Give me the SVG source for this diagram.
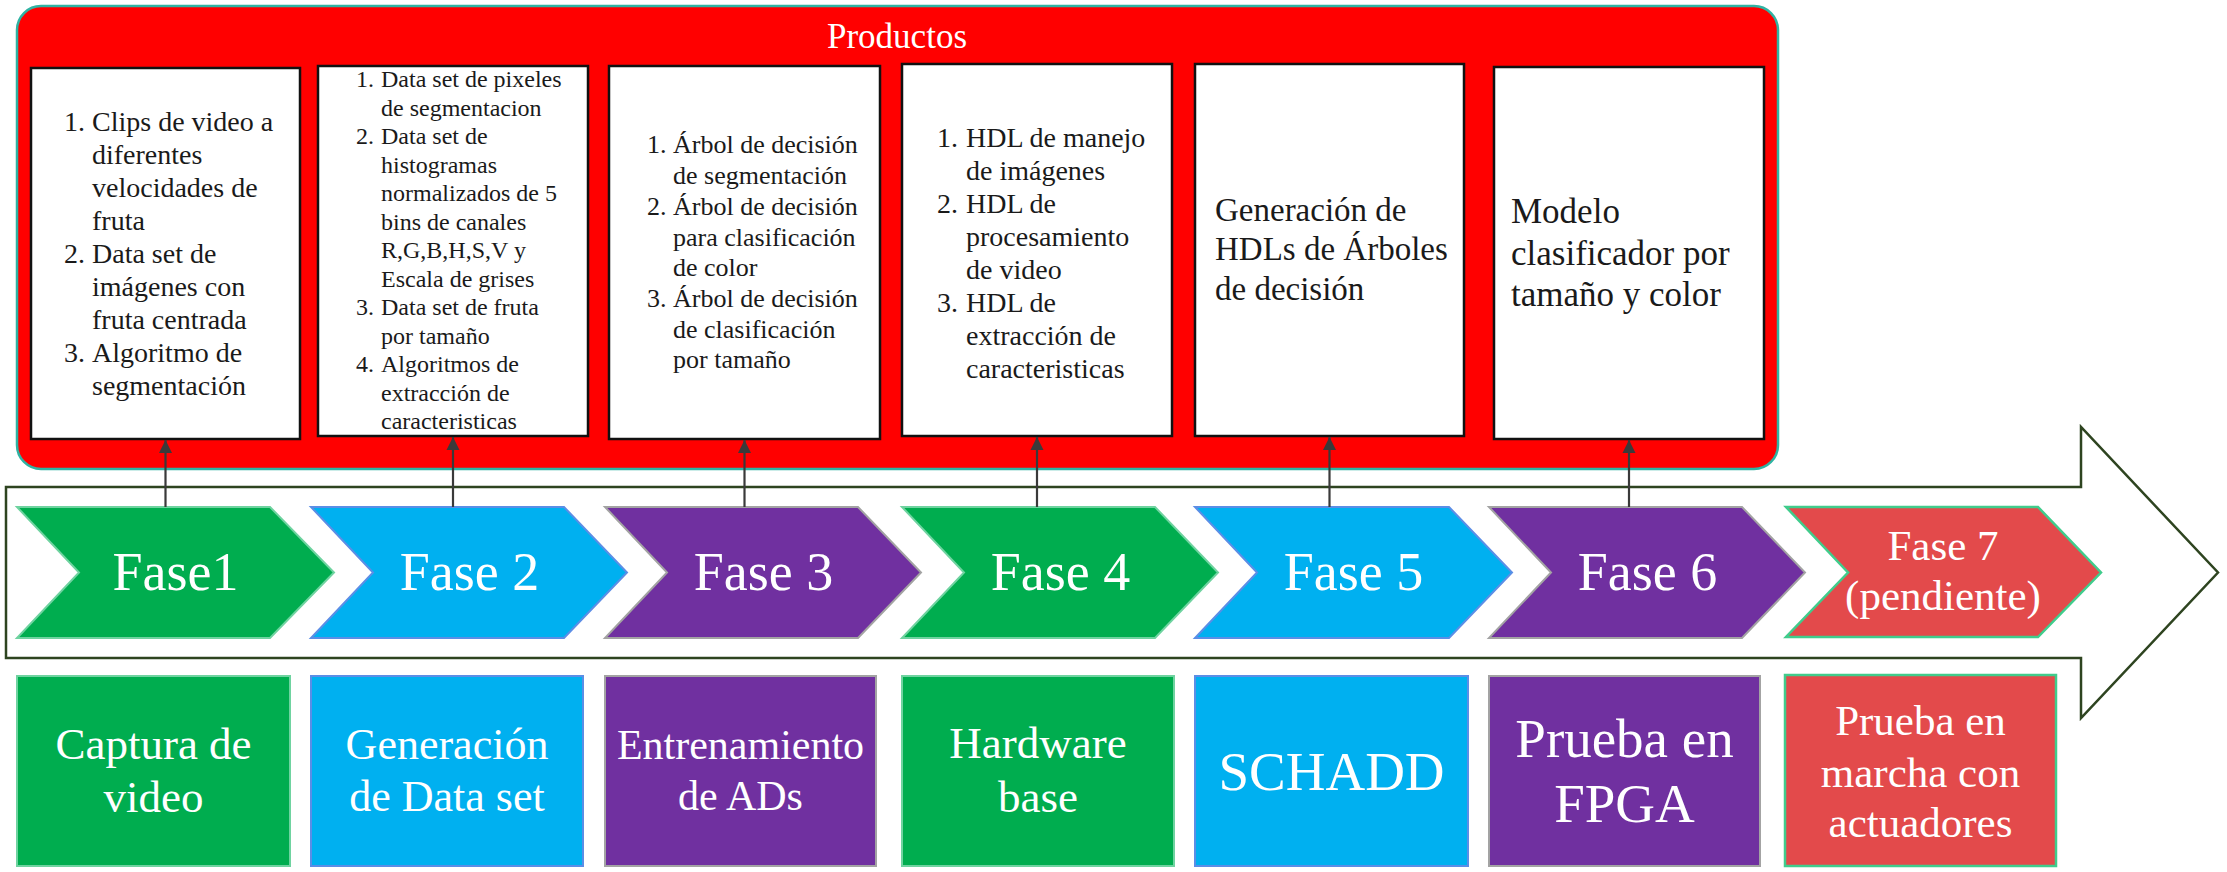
<svg xmlns="http://www.w3.org/2000/svg" width="2227" height="872" viewBox="0 0 2227 872">
  <style>
    text { font-family: "Liberation Serif", "Times New Roman", serif; }
    .prod { fill: #ffffff; stroke: #111111; stroke-width: 2.5; }
    .ptxt { fill: #1a1a1a; }
    .wtxt { fill: #ffffff; text-anchor: middle; }
    .green { fill: #00AD4F; stroke: #6FD3A0; stroke-width: 2; }
    .blue { fill: #00B0F0; stroke: #5B8EE6; stroke-width: 2; }
    .purple { fill: #7030A0; stroke: #A3A3A3; stroke-width: 2; }
    .red { fill: #E34A4B; stroke: #40CC8C; stroke-width: 2.5; }
    .conn { stroke: #3a3a3a; stroke-width: 2.2; fill: none; marker-end: url(#arrowhead); }
  </style>
  <defs>
    <marker id="arrowhead" viewBox="0 0 10 10" refX="10" refY="5" markerWidth="6" markerHeight="6" markerUnits="strokeWidth" orient="auto">
      <path d="M0,0 L10,5 L0,10 Z" fill="#3a3a3a"/>
    </marker>
  </defs>

  <rect width="2227" height="872" fill="#ffffff"/>

  <!-- Products panel -->
  <g id="productos">
    <rect x="17" y="6" width="1761" height="463" rx="24" ry="24" fill="#FF0000" stroke="#2FB3A3" stroke-width="2.5"/>
    <text x="897" y="48" font-size="35" class="wtxt">Productos</text>
  </g>

  <!-- Product boxes -->
  <g id="prod1">
    <rect class="prod" x="31" y="68" width="269" height="371"/>
    <g class="ptxt" font-size="28">
      <text x="64" y="131">1.</text><text x="92" y="131">Clips de video a</text>
      <text x="92" y="164">diferentes</text>
      <text x="92" y="197">velocidades de</text>
      <text x="92" y="230">fruta</text>
      <text x="64" y="263">2.</text><text x="92" y="263">Data set de</text>
      <text x="92" y="296">imágenes con</text>
      <text x="92" y="329">fruta centrada</text>
      <text x="64" y="362">3.</text><text x="92" y="362">Algoritmo de</text>
      <text x="92" y="395">segmentación</text>
    </g>
  </g>
  <g id="prod2">
    <rect class="prod" x="318" y="66" width="270" height="370"/>
    <g class="ptxt" font-size="24">
      <text x="356" y="87">1.</text><text x="381" y="87">Data set de pixeles</text>
      <text x="381" y="115.5">de segmentacion</text>
      <text x="356" y="144">2.</text><text x="381" y="144">Data set de</text>
      <text x="381" y="172.5">histogramas</text>
      <text x="381" y="201">normalizados de 5</text>
      <text x="381" y="229.5">bins de canales</text>
      <text x="381" y="258">R,G,B,H,S,V y</text>
      <text x="381" y="286.5">Escala de grises</text>
      <text x="356" y="315">3.</text><text x="381" y="315">Data set de fruta</text>
      <text x="381" y="343.5">por tamaño</text>
      <text x="356" y="372">4.</text><text x="381" y="372">Algoritmos de</text>
      <text x="381" y="400.5">extracción de</text>
      <text x="381" y="429">caracteristicas</text>
    </g>
  </g>
  <g id="prod3">
    <rect class="prod" x="609" y="66" width="271" height="373"/>
    <g class="ptxt" font-size="26">
      <text x="647" y="153">1.</text><text x="673" y="153">Árbol de decisión</text>
      <text x="673" y="184">de segmentación</text>
      <text x="647" y="215">2.</text><text x="673" y="215">Árbol de decisión</text>
      <text x="673" y="245.5">para clasificación</text>
      <text x="673" y="276">de color</text>
      <text x="647" y="307">3.</text><text x="673" y="307">Árbol de decisión</text>
      <text x="673" y="338">de clasificación</text>
      <text x="673" y="368">por tamaño</text>
    </g>
  </g>
  <g id="prod4">
    <rect class="prod" x="902" y="64" width="270" height="372"/>
    <g class="ptxt" font-size="28">
      <text x="937" y="147">1.</text><text x="966" y="147">HDL de manejo</text>
      <text x="966" y="180">de imágenes</text>
      <text x="937" y="213">2.</text><text x="966" y="213">HDL de</text>
      <text x="966" y="246">procesamiento</text>
      <text x="966" y="279">de video</text>
      <text x="937" y="312">3.</text><text x="966" y="312">HDL de</text>
      <text x="966" y="345">extracción de</text>
      <text x="966" y="378">caracteristicas</text>
    </g>
  </g>
  <g id="prod5">
    <rect class="prod" x="1195" y="64" width="269" height="372"/>
    <g class="ptxt" font-size="33">
      <text x="1215" y="221">Generación de</text>
      <text x="1215" y="260">HDLs de Árboles</text>
      <text x="1215" y="299.5">de decisión</text>
    </g>
  </g>
  <g id="prod6">
    <rect class="prod" x="1494" y="67" width="270" height="372"/>
    <g class="ptxt" font-size="35">
      <text x="1511" y="223">Modelo</text>
      <text x="1511" y="264.5">clasificador por</text>
      <text x="1511" y="306">tamaño y color</text>
    </g>
  </g>

  <!-- Timeline arrow -->
  <g id="timeline">
    <path d="M6,487 H2081 V427 L2218,572.5 L2081,718 V658 H6 Z" fill="#ffffff" stroke="#2E4420" stroke-width="2.5"/>
  </g>

  <!-- Phase chevrons -->
  <g id="fase1">
    <path class="green" d="M17,507 H270 L334,572.5 L270,638 H17 L79,572.5 Z"/>
    <text x="175.5" y="590" font-size="54" class="wtxt">Fase1</text>
  </g>
  <g id="fase2">
    <path class="blue" d="M311,507 H564 L627,572.5 L564,638 H311 L373,572.5 Z"/>
    <text x="469.5" y="590" font-size="54" class="wtxt">Fase 2</text>
  </g>
  <g id="fase3">
    <path class="purple" d="M605,507 H858 L921,572.5 L858,638 H605 L667,572.5 Z"/>
    <text x="763.5" y="590" font-size="54" class="wtxt">Fase 3</text>
  </g>
  <g id="fase4">
    <path class="green" d="M902,507 H1155 L1218,572.5 L1155,638 H902 L964,572.5 Z"/>
    <text x="1060.5" y="590" font-size="54" class="wtxt">Fase 4</text>
  </g>
  <g id="fase5">
    <path class="blue" d="M1195,507 H1449 L1512,572.5 L1449,638 H1195 L1257,572.5 Z"/>
    <text x="1353.5" y="590" font-size="54" class="wtxt">Fase 5</text>
  </g>
  <g id="fase6">
    <path class="purple" d="M1489,507 H1742 L1805,572.5 L1742,638 H1489 L1551,572.5 Z"/>
    <text x="1647.5" y="590" font-size="54" class="wtxt">Fase 6</text>
  </g>
  <g id="fase7">
    <path class="red" d="M1786,507 H2038 L2101,572.5 L2038,637 H1786 L1848,572.5 Z"/>
    <text x="1943" y="560" font-size="43" class="wtxt">Fase 7</text>
    <text x="1943" y="610" font-size="43" class="wtxt">(pendiente)</text>
  </g>

  <!-- Phase activity boxes -->
  <g id="act1">
    <rect class="green" x="17" y="676" width="273" height="190"/>
    <text x="153.5" y="759" font-size="45" class="wtxt">Captura de</text>
    <text x="153.5" y="812" font-size="45" class="wtxt">video</text>
  </g>
  <g id="act2">
    <rect class="blue" x="311" y="676" width="272" height="190"/>
    <text x="447" y="759" font-size="44" class="wtxt">Generación</text>
    <text x="447" y="811" font-size="44" class="wtxt">de Data set</text>
  </g>
  <g id="act3">
    <rect class="purple" x="605" y="676" width="271" height="190"/>
    <text x="740.5" y="759" font-size="42" class="wtxt">Entrenamiento</text>
    <text x="740.5" y="810" font-size="42" class="wtxt">de ADs</text>
  </g>
  <g id="act4">
    <rect class="green" x="902" y="676" width="272" height="190"/>
    <text x="1038" y="758" font-size="45" class="wtxt">Hardware</text>
    <text x="1038" y="812" font-size="45" class="wtxt">base</text>
  </g>
  <g id="act5">
    <rect class="blue" x="1195" y="676" width="273" height="190"/>
    <text x="1331.5" y="790" font-size="55" class="wtxt">SCHADD</text>
  </g>
  <g id="act6">
    <rect class="purple" x="1489" y="676" width="271" height="190"/>
    <text x="1624.5" y="757" font-size="55" class="wtxt">Prueba en</text>
    <text x="1624.5" y="822" font-size="55" class="wtxt">FPGA</text>
  </g>
  <g id="act7">
    <rect class="red" x="1785" y="675" width="271" height="191"/>
    <text x="1920.5" y="735" font-size="43" class="wtxt">Prueba en</text>
    <text x="1920.5" y="787" font-size="43" class="wtxt">marcha con</text>
    <text x="1920.5" y="837" font-size="43" class="wtxt">actuadores</text>
  </g>

  <!-- Connectors: each phase to its product -->
  <g id="connectors">
    <line class="conn" x1="165.5" y1="507" x2="165.5" y2="440"/>
    <line class="conn" x1="453" y1="507" x2="453" y2="437"/>
    <line class="conn" x1="744.5" y1="507" x2="744.5" y2="440"/>
    <line class="conn" x1="1037" y1="507" x2="1037" y2="437"/>
    <line class="conn" x1="1329.5" y1="507" x2="1329.5" y2="437"/>
    <line class="conn" x1="1629" y1="507" x2="1629" y2="440"/>
  </g>
</svg>
